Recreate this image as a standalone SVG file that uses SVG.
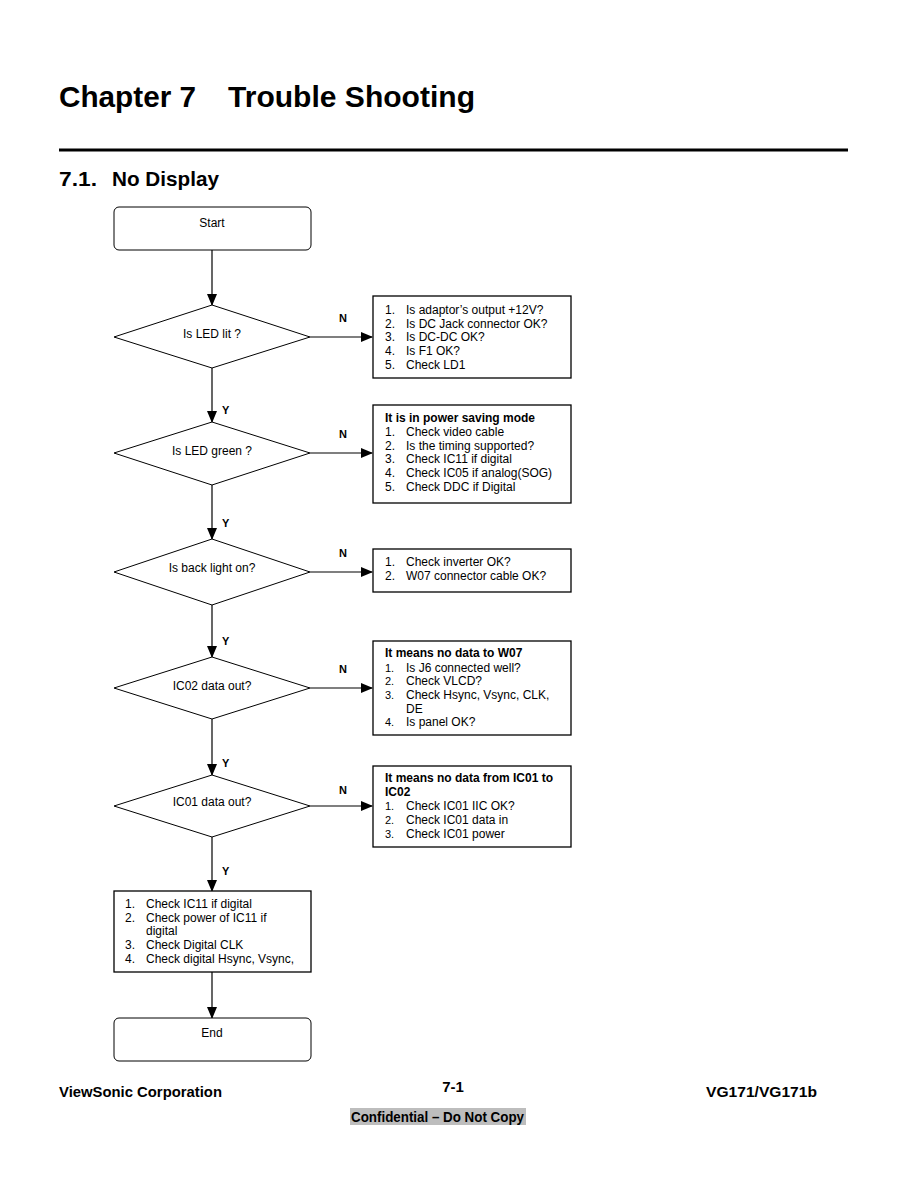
<svg xmlns="http://www.w3.org/2000/svg" width="918" height="1188" viewBox="0 0 918 1188">
<style>
text{font-family:"Liberation Sans",Arial,sans-serif;fill:#000}
.t{font-size:12px}
.s{font-size:11px}
.b{font-weight:bold}
.c{text-anchor:middle}
.lbl{font-size:11px;font-weight:bold}
.shape{fill:#fff;stroke:#000;stroke-width:1}
.box{fill:#fff;stroke:#000;stroke-width:1.3}
.ln{stroke:#000;stroke-width:1.2;fill:none}
</style>
<defs>
<marker id="ah" markerWidth="12" markerHeight="10" refX="11" refY="5" orient="auto" markerUnits="userSpaceOnUse">
<path d="M0,0 L12,5 L0,10 Z" fill="#000"/>
</marker>
</defs>
<rect width="918" height="1188" fill="#fff"/>
<g id="header">
<text x="59" y="107" font-size="30" font-weight="bold" textLength="137" lengthAdjust="spacingAndGlyphs">Chapter 7</text>
<text x="228" y="107" font-size="30" font-weight="bold" textLength="247" lengthAdjust="spacingAndGlyphs">Trouble Shooting</text>
<rect x="59" y="148.5" width="789" height="3" fill="#000"/>
<text x="59" y="186" font-size="20" font-weight="bold" textLength="38" lengthAdjust="spacingAndGlyphs">7.1.</text>
<text x="112" y="186" font-size="20" font-weight="bold" textLength="107" lengthAdjust="spacingAndGlyphs">No Display</text>
</g>
<g id="connectors">
<line class="ln" x1="212" y1="250" x2="212" y2="305" marker-end="url(#ah)"/>
<line class="ln" x1="310" y1="337" x2="372" y2="337" marker-end="url(#ah)"/>
<line class="ln" x1="212" y1="368" x2="212" y2="422" marker-end="url(#ah)"/>
<line class="ln" x1="310" y1="453" x2="372" y2="453" marker-end="url(#ah)"/>
<line class="ln" x1="212" y1="485" x2="212" y2="539" marker-end="url(#ah)"/>
<line class="ln" x1="310" y1="572" x2="372" y2="572" marker-end="url(#ah)"/>
<line class="ln" x1="212" y1="605" x2="212" y2="657" marker-end="url(#ah)"/>
<line class="ln" x1="310" y1="688" x2="372" y2="688" marker-end="url(#ah)"/>
<line class="ln" x1="212" y1="719" x2="212" y2="775" marker-end="url(#ah)"/>
<line class="ln" x1="310" y1="806" x2="372" y2="806" marker-end="url(#ah)"/>
<line class="ln" x1="212" y1="837" x2="212" y2="891" marker-end="url(#ah)"/>
<line class="ln" x1="212" y1="972" x2="212" y2="1018" marker-end="url(#ah)"/>
<text class="lbl" x="339" y="322">N</text>
<text class="lbl" x="339" y="438">N</text>
<text class="lbl" x="339" y="557">N</text>
<text class="lbl" x="339" y="673">N</text>
<text class="lbl" x="339" y="794">N</text>
<text class="lbl" x="222" y="414">Y</text>
<text class="lbl" x="222" y="527">Y</text>
<text class="lbl" x="222" y="645">Y</text>
<text class="lbl" x="222" y="767">Y</text>
<text class="lbl" x="222" y="875">Y</text>
</g>
<g id="start">
<rect class="shape" x="114" y="207" width="197" height="43" rx="5"/>
<text class="t c" x="212" y="227">Start</text>
</g>
<g id="d1">
<polygon class="shape" points="212,305 310,337 212,368 114,337"/>
<text class="t c" x="212" y="338">Is LED lit ?</text>
</g>
<g id="b1">
<rect class="box" x="373" y="296" width="198" height="82"/>
<text class="t" x="385" y="314">1.</text><text class="t" x="406" y="314">Is adaptor’s output +12V?</text>
<text class="t" x="385" y="328">2.</text><text class="t" x="406" y="328">Is DC Jack connector OK?</text>
<text class="t" x="385" y="341">3.</text><text class="t" x="406" y="341">Is DC-DC OK?</text>
<text class="t" x="385" y="355">4.</text><text class="t" x="406" y="355">Is F1 OK?</text>
<text class="t" x="385" y="369">5.</text><text class="t" x="406" y="369">Check LD1</text>
</g>
<g id="d2">
<polygon class="shape" points="212,422 310,453 212,485 114,453"/>
<text class="t c" x="212" y="455">Is LED green ?</text>
</g>
<g id="b2">
<rect class="box" x="373" y="405" width="198" height="98"/>
<text class="t b" x="385" y="422">It is in power saving mode</text>
<text class="t" x="385" y="436">1.</text><text class="t" x="406" y="436">Check video cable</text>
<text class="t" x="385" y="450">2.</text><text class="t" x="406" y="450">Is the timing supported?</text>
<text class="t" x="385" y="463">3.</text><text class="t" x="406" y="463">Check IC11 if digital</text>
<text class="t" x="385" y="477">4.</text><text class="t" x="406" y="477">Check IC05 if analog(SOG)</text>
<text class="t" x="385" y="491">5.</text><text class="t" x="406" y="491">Check DDC if Digital</text>
</g>
<g id="d3">
<polygon class="shape" points="212,539 310,572 212,605 114,572"/>
<text class="t c" x="212" y="572">Is back light on?</text>
</g>
<g id="b3">
<rect class="box" x="373" y="549" width="198" height="43"/>
<text class="t" x="385" y="566">1.</text><text class="t" x="406" y="566">Check inverter OK?</text>
<text class="t" x="385" y="580">2.</text><text class="t" x="406" y="580">W07 connector cable OK?</text>
</g>
<g id="d4">
<polygon class="shape" points="212,657 310,688 212,719 114,688"/>
<text class="t c" x="212" y="690">IC02 data out?</text>
</g>
<g id="b4">
<rect class="box" x="373" y="641" width="198" height="94"/>
<text class="t b" x="385" y="657">It means no data to W07</text>
<text class="s" x="385" y="672">1.</text><text class="t" x="406" y="672">Is J6 connected well?</text>
<text class="s" x="385" y="685">2.</text><text class="t" x="406" y="685">Check VLCD?</text>
<text class="s" x="385" y="699">3.</text><text class="t" x="406" y="699">Check Hsync, Vsync, CLK,</text>
<text class="t" x="406" y="713">DE</text>
<text class="s" x="385" y="726">4.</text><text class="t" x="406" y="726">Is panel OK?</text>
</g>
<g id="d5">
<polygon class="shape" points="212,775 310,806 212,837 114,806"/>
<text class="t c" x="212" y="806">IC01 data out?</text>
</g>
<g id="b5">
<rect class="box" x="373" y="766" width="198" height="81"/>
<text class="t b" x="385" y="782">It means no data from IC01 to</text>
<text class="t b" x="385" y="796">IC02</text>
<text class="s" x="385" y="810">1.</text><text class="t" x="406" y="810">Check IC01 IIC OK?</text>
<text class="s" x="385" y="824">2.</text><text class="t" x="406" y="824">Check IC01 data in</text>
<text class="s" x="385" y="838">3.</text><text class="t" x="406" y="838">Check IC01 power</text>
</g>
<g id="b6">
<rect class="box" x="114" y="891" width="197" height="81"/>
<text class="t" x="125" y="908">1.</text><text class="t" x="146" y="908">Check IC11 if digital</text>
<text class="t" x="125" y="922">2.</text><text class="t" x="146" y="922">Check power of IC11 if</text>
<text class="t" x="146" y="935">digital</text>
<text class="t" x="125" y="949">3.</text><text class="t" x="146" y="949">Check Digital CLK</text>
<text class="t" x="125" y="963">4.</text><text class="t" x="146" y="963">Check digital Hsync, Vsync,</text>
</g>
<g id="end">
<rect class="shape" x="114" y="1018" width="197" height="43" rx="5"/>
<text class="t c" x="212" y="1037">End</text>
</g>
<g id="footer">
<text x="59" y="1097" font-size="15" font-weight="bold" textLength="163" lengthAdjust="spacingAndGlyphs">ViewSonic Corporation</text>
<text x="453" y="1092" font-size="15" font-weight="bold" text-anchor="middle">7-1</text>
<text x="817" y="1097" font-size="15" font-weight="bold" text-anchor="end" textLength="111" lengthAdjust="spacingAndGlyphs">VG171/VG171b</text>
<rect x="350" y="1108" width="176" height="17" fill="#bdbdbd"/>
<text x="351" y="1122" font-size="14" font-weight="bold" textLength="173" lengthAdjust="spacingAndGlyphs">Confidential – Do Not Copy</text>
</g>
</svg>
